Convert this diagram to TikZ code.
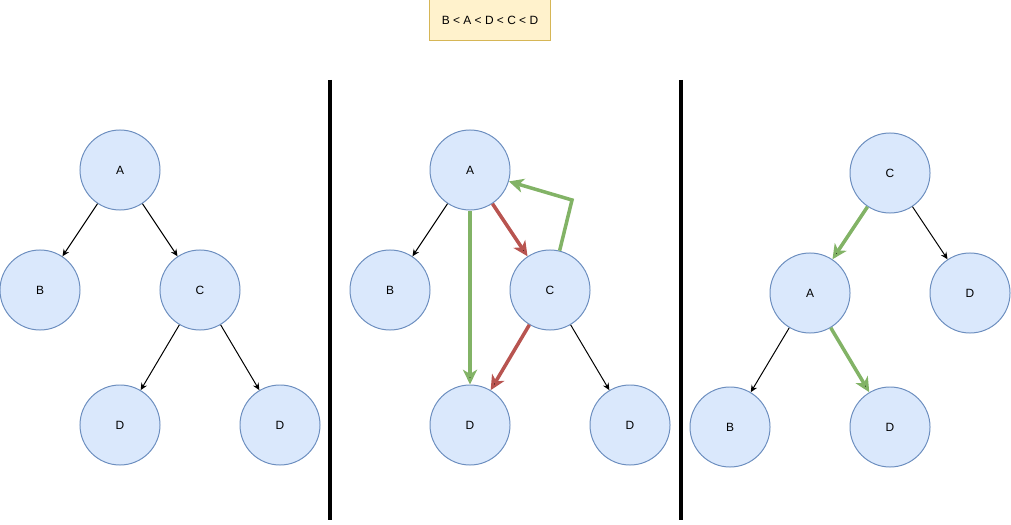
\documentclass[tikz,border=0pt]{standalone}
\usepackage{fontspec}
\setmainfont{Liberation Sans}
\usetikzlibrary{arrows.meta}
\definecolor{nodefill}{HTML}{DAE8FC}
\definecolor{nodeline}{HTML}{6C8EBF}
\definecolor{goodgreen}{HTML}{82B366}
\definecolor{badred}{HTML}{B85450}
\definecolor{notefill}{HTML}{FFF2CC}
\definecolor{noteline}{HTML}{D6B656}
\tikzset{
	vertex/.style={draw=nodeline, fill=nodefill, circle, minimum size=2cm, inner sep=0pt, line width=0.7pt},
	plain/.style={-{Stealth[length=5pt,width=4.5pt]}, line width=0.7pt},
	goodedge/.style={-{Stealth[length=10.5pt,width=10pt,inset=3pt]}, draw=goodgreen, line width=2.5pt},
	badedge/.style={-{Stealth[length=10.5pt,width=10pt,inset=3pt]}, draw=badred, line width=2.5pt},
	divider/.style={line width=2.2pt}
}
\begin{document}
\begin{tikzpicture}[x=0.025cm, y=-0.025cm, font=\fontsize{8.5}{10}\selectfont]
					\useasboundingbox (0,0) rectangle (1011,525);
					\node[draw=noteline, fill=notefill, line width=0.7pt, minimum width=3cm, minimum height=1cm, inner sep=0pt] at (490,20)(order){B < A < D < C < D};
					% left
					\node[vertex] at (120,170)(a1){A};
					\node[vertex] at (40,290)(b1){B};
					\node[vertex] at (200,290)(c1){C};
					\node[vertex] at (120,425)(d1){D};
					\node[vertex] at (280,425)(e1){D};
					\draw[plain] (a1)edge(b1);
					\draw[plain] (a1)edge(c1);
					\draw[plain] (c1)edge(d1);
					\draw[plain] (c1)edge(e1);
					% middle
					\node[vertex] at (470,170)(a2){A};
					\node[vertex] at (390,290)(b2){B};
					\node[vertex] at (550,290)(c2){C};
					\node[vertex] at (470,425)(d2){D};
					\node[vertex] at (630,425)(e2){D};
					\coordinate (k2) at (572,200);
					\draw[plain] (a2)edge(b2);
					\draw[plain] (c2)edge(e2);
					\draw[badedge] (a2)edge(c2);
					\draw[badedge] (c2)edge(d2);
					\draw[goodedge] (a2)edge(d2);
					\draw[goodedge] (c2)--(k2)--(a2);
					% right
					\node[vertex] at (890,173)(c3){C};
					\node[vertex] at (810,293)(a3){A};
					\node[vertex] at (970,293)(d3){D};
					\node[vertex] at (730,427)(b3){B};
					\node[vertex] at (890,427)(e3){D};
					\draw[goodedge] (c3)edge(a3);
					\draw[plain] (c3)edge(d3);
					\draw[plain] (a3)edge(b3);
					\draw[goodedge] (a3)edge(e3);
					% dividers
					\coordinate (t1) at (330,80);
					\coordinate (u1) at (330,520);
					\coordinate (t2) at (681,80);
					\coordinate (u2) at (681,520);
					\draw[divider] (t1)--(u1);
					\draw[divider] (t2)--(u2);
				\end{tikzpicture}
\end{document}
